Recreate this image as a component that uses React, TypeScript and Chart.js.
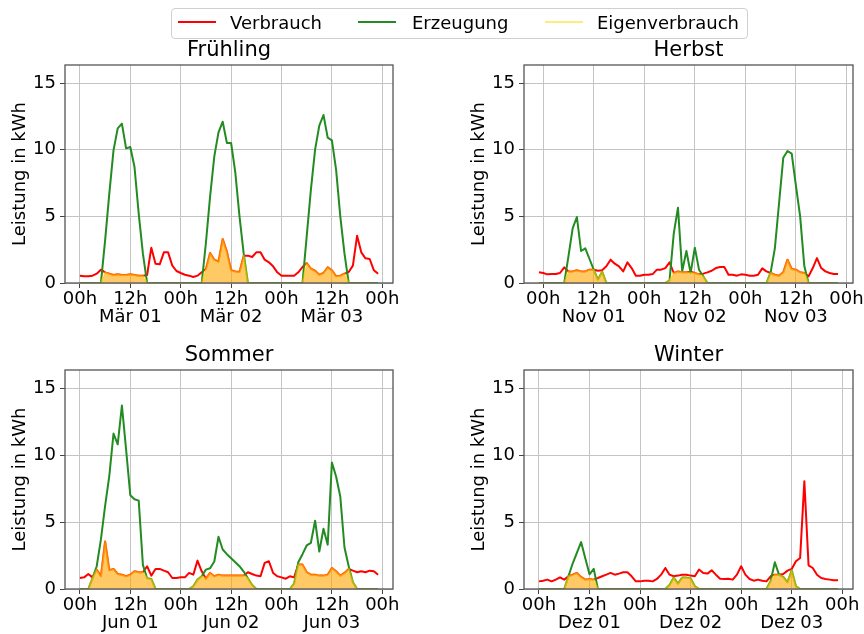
import React, { useEffect, useRef } from "react";
import { Chart, registerables } from "chart.js";

Chart.register(...registerables);

const FONT = "'DejaVu Sans', 'Liberation Sans', sans-serif";

// Hour ticks and y ticks
const hourTicks = [0, 12, 24, 36, 48, 60, 72];
const yTicks = [0, 5, 10, 15];
const yMax = 16.35;

// Frühling (hourly, from 00h Mär 01)
const fruehlingStart = 0;
const fruehlingDays = ["Mär 01", "Mär 02", "Mär 03"];
const fruehlingVerbrauch = [
  0.55, 0.5, 0.5, 0.55, 0.7, 1.0, 0.8, 0.7, 0.6, 0.65, 0.6, 0.6, 0.65, 0.6, 0.55, 0.55, 0.6, 2.65, 1.45, 1.4, 2.3, 2.3, 1.3, 0.9,
  0.75, 0.62, 0.55, 0.45, 0.55, 0.8, 1.05, 2.25, 1.75, 1.6, 3.3, 2.35, 0.95, 0.87, 0.82, 2.05, 2.05, 1.95, 2.3, 2.3, 1.75, 1.55, 1.25, 0.8,
  0.55, 0.55, 0.55, 0.55, 0.8, 1.2, 1.5, 1.07, 0.92, 0.62, 0.75, 1.17, 0.95, 0.5, 0.55, 0.7, 0.82, 1.3, 3.55, 2.3, 1.85, 1.8, 0.95, 0.7,
];
const fruehlingErzeugung = [
  0, 0, 0, 0, 0, 0, 3.2, 6.7, 9.95, 11.6, 11.95, 10.1, 10.2, 8.7, 5.2, 2.2, 0, 0, 0, 0, 0, 0, 0, 0,
  0, 0, 0, 0, 0, 0, 3.0, 6.5, 9.5, 11.3, 12.1, 10.5, 10.5, 8.3, 5.0, 2.2, 0, 0, 0, 0, 0, 0, 0, 0,
  0, 0, 0, 0, 0, 0, 3.5, 7.0, 10.0, 11.8, 12.6, 10.9, 10.7, 8.5, 5.0, 2.2, 0, 0, 0, 0, 0, 0, 0, 0,
];
const fruehlingEigen = [
  0, 0, 0, 0, 0, 0, 0.8, 0.7, 0.6, 0.65, 0.6, 0.6, 0.65, 0.6, 0.55, 0.55, 0, 0, 0, 0, 0, 0, 0, 0,
  0, 0, 0, 0, 0, 0, 1.05, 2.25, 1.75, 1.6, 3.3, 2.35, 0.95, 0.87, 0.82, 2.05, 0, 0, 0, 0, 0, 0, 0, 0,
  0, 0, 0, 0, 0, 0, 1.5, 1.07, 0.92, 0.62, 0.75, 1.17, 0.95, 0.5, 0.55, 0.7, 0, 0, 0, 0, 0, 0, 0, 0,
];

// Herbst (hourly, from 23h of the previous day)
const herbstStart = -1;
const herbstDays = ["Nov 01", "Nov 02", "Nov 03"];
const herbstVerbrauch = [
  0.8, 0.75, 0.65, 0.67, 0.67, 0.75, 1.17, 0.87, 0.87, 0.95, 0.87, 0.87, 1.0, 1.0, 0.92, 0.95, 1.25, 1.75, 1.45, 1.25, 0.87, 1.55, 1.12, 0.55, 0.55,
  0.62, 0.62, 0.67, 1.0, 1.0, 1.12, 1.55, 0.75, 0.87, 0.8, 0.8, 0.85, 0.75, 0.65, 0.7, 0.8, 0.92, 1.12, 1.2, 1.2, 0.62, 0.62, 0.55, 0.65,
  0.62, 0.55, 0.55, 0.62, 1.1, 0.87, 0.75, 0.62, 0.55, 0.8, 1.75, 1.05, 1.0, 0.8, 0.75, 0.5, 1.12, 1.87, 1.12, 0.87, 0.75, 0.67, 0.67,
];
const herbstErzeugung = [
  0, 0, 0, 0, 0, 0, 0, 2.0, 4.1, 4.95, 2.4, 2.6, 1.8, 1.0, 0.25, 0.85, 0, 0, 0, 0, 0, 0, 0, 0, 0,
  0, 0, 0, 0, 0, 0, 0.2, 3.7, 5.65, 0.87, 2.4, 0.75, 2.65, 1.0, 0.5, 0, 0, 0, 0, 0, 0, 0, 0, 0,
  0, 0, 0, 0, 0, 0, 0.8, 2.6, 6.0, 9.4, 9.9, 9.7, 7.3, 5.0, 1.25, 0, 0, 0, 0, 0, 0, 0, 0,
];
const herbstEigen = [
  0, 0, 0, 0, 0, 0, 0, 0.87, 0.87, 0.95, 0.87, 0.87, 1.0, 1.0, 0.25, 0.85, 0, 0, 0, 0, 0, 0, 0, 0, 0,
  0, 0, 0, 0, 0, 0, 0.2, 0.75, 0.87, 0.8, 0.8, 0.75, 0.75, 0.65, 0.5, 0, 0, 0, 0, 0, 0, 0, 0, 0,
  0, 0, 0, 0, 0, 0, 0.75, 0.62, 0.55, 0.8, 1.75, 1.05, 1.0, 0.8, 0.75, 0, 0, 0, 0, 0, 0, 0, 0,
];

// Sommer
const sommerStart = 0;
const sommerDays = ["Jun 01", "Jun 02", "Jun 03"];
const sommerVerbrauch = [
  0.82, 0.87, 1.12, 0.87, 1.45, 0.95, 3.55, 1.4, 1.5, 1.12, 1.07, 0.95, 1.07, 1.32, 1.25, 1.25, 1.7, 1.0, 1.5, 1.5, 1.37, 1.25, 0.82, 0.82,
  0.87, 0.87, 1.2, 1.07, 2.12, 1.32, 0.77, 1.2, 0.95, 1.07, 1.0, 1.0, 1.0, 1.0, 1.0, 1.0, 1.25, 1.12, 1.0, 0.95, 1.95, 2.07, 1.2, 0.95,
  0.87, 0.77, 0.95, 0.87, 1.82, 1.82, 1.25, 1.07, 1.07, 1.0, 1.0, 1.07, 1.57, 1.32, 1.0, 1.2, 1.5, 1.37, 1.25, 1.32, 1.25, 1.37, 1.32, 1.07,
];
const sommerErzeugung = [
  0, 0, 0, 0.8, 1.7, 3.7, 6.2, 8.45, 11.6, 10.8, 13.7, 10.4, 7.0, 6.7, 6.6, 1.8, 0.8, 0.75, 0, 0, 0, 0, 0, 0,
  0, 0, 0, 0.2, 0.7, 0.95, 1.45, 1.55, 2.05, 3.9, 2.95, 2.6, 2.3, 2.0, 1.7, 1.3, 0.8, 0.3, 0, 0, 0, 0, 0, 0,
  0, 0, 0, 0.4, 2.0, 2.6, 3.25, 3.45, 5.1, 2.8, 4.5, 3.3, 9.45, 8.4, 6.9, 3.1, 1.7, 0.5, 0, 0, 0, 0, 0, 0,
];
const sommerEigen = [
  0, 0, 0, 0.8, 1.45, 0.95, 3.55, 1.4, 1.5, 1.12, 1.07, 0.95, 1.07, 1.32, 1.25, 1.25, 0.8, 0.75, 0, 0, 0, 0, 0, 0,
  0, 0, 0, 0.2, 0.7, 0.95, 0.77, 1.2, 0.95, 1.07, 1.0, 1.0, 1.0, 1.0, 1.0, 1.0, 0.8, 0.3, 0, 0, 0, 0, 0, 0,
  0, 0, 0, 0.4, 1.82, 1.82, 1.25, 1.07, 1.07, 1.0, 1.0, 1.07, 1.57, 1.32, 1.0, 1.2, 1.5, 0.5, 0, 0, 0, 0, 0, 0,
];

// Winter
const winterStart = 0;
const winterDays = ["Dez 01", "Dez 02", "Dez 03"];
const winterVerbrauch = [
  0.57, 0.62, 0.7, 0.57, 0.7, 0.87, 0.7, 0.95, 1.07, 1.2, 0.9, 0.7, 0.75, 0.7, 0.82, 0.95, 1.07, 1.2, 1.07, 1.15, 1.25, 1.25, 0.95, 0.57,
  0.57, 0.62, 0.62, 0.57, 0.75, 1.07, 1.57, 1.07, 0.95, 1.0, 1.07, 1.07, 1.0, 0.95, 1.45, 1.2, 1.15, 1.4, 1.07, 0.77, 0.75, 0.77, 0.7, 1.07,
  1.7, 1.07, 0.75, 0.62, 0.7, 0.62, 0.57, 0.95, 1.07, 1.07, 1.12, 1.37, 1.5, 2.07, 2.32, 8.05, 1.77, 1.57, 1.07, 0.82, 0.75, 0.7, 0.65, 0.65,
];
const winterErzeugung = [
  0, 0, 0, 0, 0, 0, 0, 0.95, 1.9, 2.7, 3.5, 2.3, 1.1, 1.5, 0, 0, 0, 0, 0, 0, 0, 0, 0, 0,
  0, 0, 0, 0, 0, 0, 0, 0.3, 0.85, 0.4, 0.85, 0.85, 0.8, 0.2, 0, 0, 0, 0, 0, 0, 0, 0, 0, 0,
  0, 0, 0, 0, 0, 0, 0, 0.6, 2.0, 1.05, 0.9, 0.5, 1.4, 0.2, 0, 0, 0, 0, 0, 0, 0, 0, 0, 0,
];
const winterEigen = [
  0, 0, 0, 0, 0, 0, 0, 0.95, 1.07, 1.2, 0.9, 0.7, 0.75, 0.7, 0, 0, 0, 0, 0, 0, 0, 0, 0, 0,
  0, 0, 0, 0, 0, 0, 0, 0.3, 0.85, 0.4, 0.85, 0.85, 0.8, 0.2, 0, 0, 0, 0, 0, 0, 0, 0, 0, 0,
  0, 0, 0, 0, 0, 0, 0, 0.6, 1.07, 1.05, 0.9, 0.5, 1.4, 0.2, 0, 0, 0, 0, 0, 0, 0, 0, 0, 0,
];

const RED = "#ff0000";
const GREEN = "#228b22";
const GOLD_LINE = "rgba(255, 215, 0, 0.5)";
const ORANGE_FILL = "rgba(255, 165, 0, 0.6)";
const GRID = "#c4c4c4";

const framePlugin = {
  id: "frame",
  afterDatasetsDraw(chart: any) {
    const { ctx, chartArea } = chart;
    ctx.save();
    ctx.strokeStyle = "#555555";
    ctx.lineWidth = 1.3;
    ctx.strokeRect(chartArea.left, chartArea.top, chartArea.right - chartArea.left, chartArea.bottom - chartArea.top);
    ctx.restore();
  },
};

type PanelProps = {
  title: string;
  days: string[];
  start: number;
  verbrauch: number[];
  erzeugung: number[];
  eigen: number[];
  left: number;
  top: number;
  width: number;
  height: number;
  padRight: number;
  xHeight: number;
};

function Panel(p: PanelProps) {
  const ref = useRef<HTMLCanvasElement>(null);
  useEffect(() => {
    const toPts = (arr: number[]) => arr.map((v, i) => ({ x: p.start + i, y: v }));
    const lineBase = {
      pointRadius: 0,
      borderWidth: 2,
      tension: 0,
      borderJoinStyle: "round" as const,
      borderCapStyle: "butt" as const,
    };
    const chart = new Chart(ref.current as HTMLCanvasElement, {
      type: "line",
      data: {
        datasets: [
          { ...lineBase, label: "Verbrauch", data: toPts(p.verbrauch), borderColor: RED, fill: false, order: 2 },
          { ...lineBase, label: "Erzeugung", data: toPts(p.erzeugung), borderColor: GREEN, fill: false, order: 1 },
          {
            ...lineBase,
            label: "Eigenverbrauch",
            data: toPts(p.eigen),
            borderColor: GOLD_LINE,
            backgroundColor: ORANGE_FILL,
            fill: "origin",
            order: 0,
          },
        ],
      },
      options: {
        animation: false,
        responsive: false,
        maintainAspectRatio: false,
        layout: { padding: { left: 0, right: p.padRight, top: 0, bottom: 0 } },
        plugins: {
          legend: { display: false },
          tooltip: { enabled: false },
          title: {
            display: true,
            fullSize: false,
            text: p.title,
            color: "#000",
            font: { size: 21, family: FONT, weight: "normal", lineHeight: 1.2 },
            padding: { top: 0, bottom: 1.8 },
          },
        },
        scales: {
          x: {
            type: "linear",
            min: p.start - 3.55,
            max: p.start + 71 + 3.55,
            afterBuildTicks: (s: any) => {
              s.ticks = hourTicks.map((v) => ({ value: v }));
            },
            afterFit: (s: any) => {
              s.height = p.xHeight;
            },
            ticks: {
              autoSkip: false,
              maxRotation: 0,
              minRotation: 0,
              padding: 2,
              color: "#000",
              font: { size: 18, family: FONT, lineHeight: 1.0 },
              callback: (value: any) => {
                const h = Number(value);
                const hh = ((h % 24) + 24) % 24;
                const lab = (hh < 10 ? "0" : "") + hh + "h";
                if (hh === 12) return [lab, p.days[(h - 12) / 24]];
                return lab;
              },
            },
            grid: { color: GRID, lineWidth: 1, tickLength: 5, tickColor: "#444" },
            border: { display: false },
          },
          y: {
            type: "linear",
            min: 0,
            max: yMax,
            afterBuildTicks: (s: any) => {
              s.ticks = yTicks.map((v) => ({ value: v }));
            },
            afterFit: (s: any) => {
              s.width = 65;
            },
            ticks: { padding: 4, color: "#000", font: { size: 18, family: FONT } },
            grid: { color: GRID, lineWidth: 1, tickLength: 5, tickColor: "#444" },
            border: { display: false },
            title: {
              display: true,
              text: "Leistung in kWh",
              color: "#000",
              font: { size: 18, family: FONT },
              padding: { top: 9.2, bottom: 0 },
            },
          },
        },
      },
      plugins: [framePlugin],
    } as any);
    return () => chart.destroy();
  }, []);
  return (
    <canvas
      ref={ref}
      width={p.width}
      height={p.height}
      style={{ position: "absolute", left: p.left, top: p.top, width: p.width, height: p.height }}
    />
  );
}

const legendItems = [
  { label: "Verbrauch", color: RED, x: 178, tx: 230 },
  { label: "Erzeugung", color: GREEN, x: 358, tx: 412 },
  { label: "Eigenverbrauch", color: GOLD_LINE, x: 545, tx: 597 },
];

export default function App() {
  return (
    <div
      style={{
        position: "fixed",
        left: 0,
        top: 0,
        width: 864,
        height: 634,
        overflow: "hidden",
        background: "#fff",
        fontFamily: FONT,
      }}
    >
      <Panel title="Frühling" days={fruehlingDays} start={fruehlingStart} verbrauch={fruehlingVerbrauch}
        erzeugung={fruehlingErzeugung} eigen={fruehlingEigen} left={0} top={38} width={420} height={295} padRight={27} xHeight={50} />
      <Panel title="Herbst" days={herbstDays} start={herbstStart} verbrauch={herbstVerbrauch}
        erzeugung={herbstErzeugung} eigen={herbstEigen} left={459} top={38} width={420} height={295} padRight={26} xHeight={50} />
      <Panel title="Sommer" days={sommerDays} start={sommerStart} verbrauch={sommerVerbrauch}
        erzeugung={sommerErzeugung} eigen={sommerEigen} left={0} top={343} width={420} height={291} padRight={27} xHeight={45} />
      <Panel title="Winter" days={winterDays} start={winterStart} verbrauch={winterVerbrauch}
        erzeugung={winterErzeugung} eigen={winterEigen} left={459} top={343} width={420} height={291} padRight={26} xHeight={45} />
      <div
        style={{
          position: "absolute",
          left: 171,
          top: 8,
          width: 577,
          height: 31,
          boxSizing: "border-box",
          border: "1px solid #d0d0d0",
          borderRadius: 4,
          background: "rgba(255,255,255,0.8)",
        }}
      />
      {legendItems.map((it) => (
        <React.Fragment key={it.label}>
          <div style={{ position: "absolute", left: it.x, top: 21, width: 38, height: 2, background: it.color }} />
          <div
            style={{
              position: "absolute",
              left: it.tx,
              top: 13.5,
              fontSize: 18,
              lineHeight: "18px",
              color: "#000",
              whiteSpace: "nowrap",
            }}
          >
            {it.label}
          </div>
        </React.Fragment>
      ))}
    </div>
  );
}
